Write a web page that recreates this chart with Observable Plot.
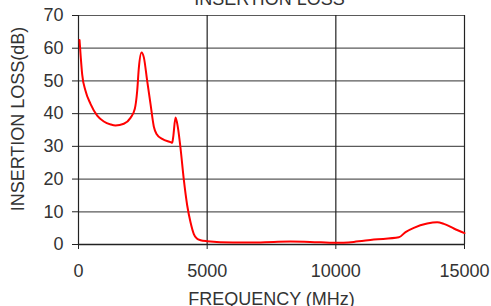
<!DOCTYPE html>
<html>
<head>
<meta charset="utf-8">
<script src="https://cdn.jsdelivr.net/npm/d3@7"></script>
<script src="https://cdn.jsdelivr.net/npm/@observablehq/plot@0.6"></script>
<style>
  html, body { margin: 0; padding: 0; background: #fff; }
</style>
</head>
<body>
<div id="chart"></div>
<script>
const title = "INSERTION LOSS";
const xLabel = "FREQUENCY (MHz)";
const yLabel = "INSERTION LOSS(dB)";
const xTicks = [0, 5000, 10000, 15000];
const yTicks = [0, 10, 20, 30, 40, 50, 60, 70];

const freq = [40, 90, 143, 272, 466, 726, 984, 1250, 1438, 1762, 2021, 2189, 2281, 2345, 2449, 2539, 2669, 2798, 2928, 3032, 3252, 3576, 3641, 3680, 3770, 3860, 3964, 4093, 4223, 4353, 4482, 4600, 4741, 5000, 6000, 6700, 7590, 8240, 9000, 10000, 10700, 11476, 12448, 12709, 13031, 13550, 13938, 14197, 14586, 15000];
const loss = [62.5, 57, 52, 47, 43, 39.4, 37.6, 36.7, 36.4, 36.9, 38.7, 41.5, 47, 54, 58.7, 57.2, 50, 43, 36, 33.8, 32.3, 31.3, 31.1, 32.8, 38.8, 35.9, 29.5, 19.8, 12, 6.8, 3.2, 1.8, 1.3, 1.0, 0.6, 0.6, 0.8, 0.9, 0.8, 0.5, 0.8, 1.5, 2.2, 3.8, 5.1, 6.4, 6.8, 6.3, 4.9, 3.5];

const data = freq.map((f, i) => ({f, v: loss[i]}));

const chart = Plot.plot({
  width: 491,
  height: 306,
  marginLeft: 78,
  marginRight: 27,
  marginTop: 15,
  marginBottom: 62,
  style: {fontFamily: "'Liberation Sans', Arial, sans-serif", fontSize: "18px", color: "#333", background: "#fff"},
  x: {domain: [0, 15000]},
  y: {domain: [0, 70]},
  marks: [
    Plot.ruleY(yTicks.filter(d => d > 0), {stroke: "#5a5a5a", strokeWidth: 1.2}),
    Plot.ruleX(xTicks, {stroke: "#222", strokeWidth: 1.2}),
    Plot.ruleY([0], {stroke: "#222", strokeWidth: 1.5}),
    Plot.axisX({ticks: xTicks, tickSize: 5, tickPadding: 15, tickFormat: d => String(d), fontSize: 18, label: null, stroke: "#222"}),
    Plot.axisY({ticks: yTicks, tickSize: 6, tickPadding: 9, fontSize: 18, label: null, stroke: "#222"}),
    Plot.line(data, {x: "f", y: "v", stroke: "#ff0000", strokeWidth: 2, curve: "monotone-x"}),
    Plot.text([title], {frameAnchor: "top", lineAnchor: "bottom", dx: -2, dy: -11, fontSize: 18, fill: "#333"}),
    Plot.text([xLabel], {frameAnchor: "bottom", lineAnchor: "top", dy: 48, fontSize: 18, fill: "#333"}),
    Plot.text([yLabel], {frameAnchor: "left", textAnchor: "middle", lineAnchor: "middle", rotate: -90, dx: -60, dy: -11, fontSize: 18, fill: "#333"})
  ]
});
document.getElementById("chart").appendChild(chart);
</script>
</body>
</html>
